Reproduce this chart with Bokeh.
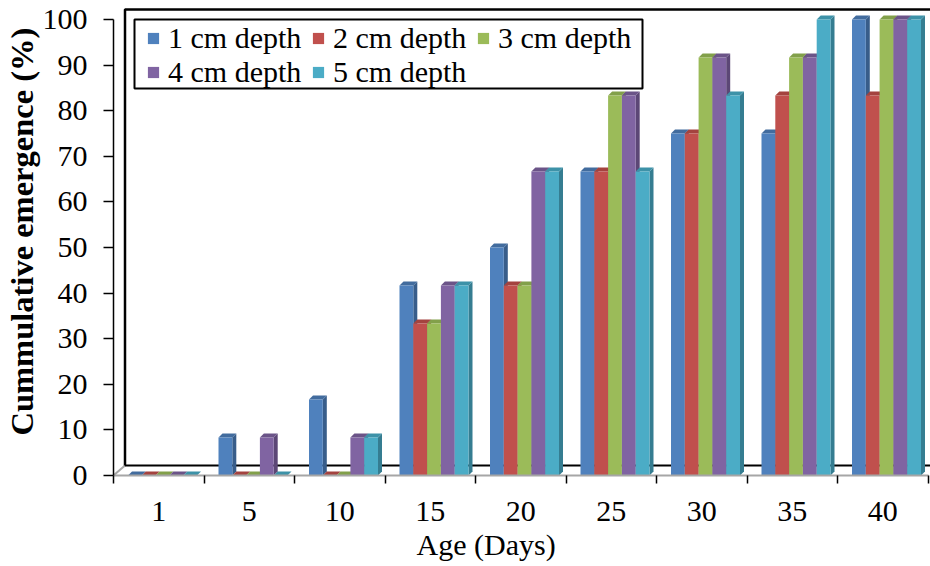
from bokeh.plotting import figure
from bokeh.models import (FixedTicker, Legend, LegendItem, Title, BoxAnnotation,
                          ColumnDataSource)
from bokeh.embed import file_html
from bokeh.resources import INLINE

# Cumulative emergence (%) by age (days) for each sowing depth
days = ["1", "5", "10", "15", "20", "25", "30", "35", "40"]
series_names = ["1 cm depth", "2 cm depth", "3 cm depth", "4 cm depth", "5 cm depth"]
depth_1cm = [0, 8.33, 16.67, 41.67, 50.0, 66.67, 75.0, 75.0, 100.0]
depth_2cm = [0, 0, 0, 33.33, 41.67, 66.67, 75.0, 83.33, 83.33]
depth_3cm = [0, 0, 0, 33.33, 41.67, 83.33, 91.67, 91.67, 100.0]
depth_4cm = [0, 8.33, 8.33, 41.67, 66.67, 83.33, 91.67, 91.67, 100.0]
depth_5cm = [0, 0, 8.33, 41.67, 66.67, 66.67, 83.33, 100.0, 100.0]
y_ticks = [0, 10, 20, 30, 40, 50, 60, 70, 80, 90, 100]

series_values = [depth_1cm, depth_2cm, depth_3cm, depth_4cm, depth_5cm]
front_colors = ["#4F81BD", "#C0504D", "#9BBB59", "#8064A2", "#4BACC6"]
side_colors = ["#385D8A", "#8C3A38", "#71893F", "#5C4776", "#357D91"]
top_colors = ["#426C9E", "#A4433F", "#82A04A", "#6B5488", "#3D92A8"]

FONT = "Liberation Serif"

# pixel scale of the plot frame (used for the pseudo-3D depth offsets)
PX_X = 90.5          # pixels per category
PX_Y = 4.56          # pixels per percent
FRAME_W = 817
FRAME_H = 470
bar_w = 13.8 / PX_X
group_pad = 14.5 / PX_X
dx = 4.0 / PX_X
dy = 4.0 / PX_Y

p = figure(width=930, height=566, output_backend="svg", toolbar_location=None,
           x_range=(0, FRAME_W / PX_X), y_range=(0, FRAME_H / PX_Y),
           min_border_left=113, min_border_right=0, min_border_top=5,
           min_border_bottom=91, background_fill_color="white",
           border_fill_color="white", outline_line_color=None)
p.xgrid.visible = False
p.ygrid.visible = False

# back wall and floor of the 3D box
wall_x = 11.5 / PX_X
wall_y = 10.0 / PX_Y
wall_top = 466.0 / PX_Y
p.segment(x0=[0], y0=[0], x1=[wall_x], y1=[wall_y], line_color="#a6a6a6", line_width=2)
p.line(x=[wall_x, wall_x, FRAME_W / PX_X + 1], y=[wall_y, wall_top, wall_top],
       line_color="black", line_width=2.5)
p.line(x=[wall_x, FRAME_W / PX_X + 1], y=[wall_y, wall_y], line_color="black", line_width=2)

# side and top faces of every column, then the front faces on top
xs, ys, cols = [], [], []
centers = {k: [] for k in range(5)}
for i in range(len(days)):
    for k, vals in enumerate(series_values):
        v = vals[i]
        x0 = i + group_pad + k * bar_w
        x1 = x0 + bar_w
        centers[k].append(x0 + bar_w / 2)
        if v > 0:
            xs.append([x1, x1, x1 + dx, x1 + dx])
            ys.append([0, v, v + dy, dy])
            cols.append(side_colors[k])
        xs.append([x0, x1, x1 + dx, x0 + dx])
        ys.append([v, v, v + dy, v + dy])
        cols.append(top_colors[k])

faces = ColumnDataSource(dict(xs=xs, ys=ys, color=cols))
p.patches("xs", "ys", source=faces, fill_color="color", line_color=None)

renderers = []
for k, vals in enumerate(series_values):
    r = p.vbar(x=centers[k], width=bar_w, top=vals, bottom=0,
               fill_color=front_colors[k], line_color=None)
    renderers.append(r)

# axes
p.yaxis.ticker = FixedTicker(ticks=y_ticks, minor_ticks=[])
p.yaxis.bounds = (0, 100)
p.yaxis.major_tick_out = 10
p.yaxis.major_tick_in = 0
p.yaxis.minor_tick_line_color = None
p.yaxis.axis_line_width = 1.5
p.yaxis.major_tick_line_width = 1.5
p.yaxis.major_label_text_font = FONT
p.yaxis.major_label_text_font_size = "30px"
p.yaxis.major_label_text_color = "black"
p.yaxis.major_label_standoff = 16

label_pos = [i + 0.5 for i in range(len(days))]
p.xaxis.ticker = FixedTicker(ticks=label_pos, minor_ticks=list(range(len(days) + 1)))
p.xaxis.major_label_overrides = {pos: d for pos, d in zip(label_pos, days)}
p.xaxis.bounds = (0, 9.0)
p.xaxis.major_tick_line_color = None
p.xaxis.minor_tick_out = 8
p.xaxis.minor_tick_in = 0
p.xaxis.minor_tick_line_color = "black"
p.xaxis.minor_tick_line_width = 1.5
p.xaxis.axis_line_color = "#a6a6a6"
p.xaxis.axis_line_width = 2
p.xaxis.major_label_text_font = FONT
p.xaxis.major_label_text_font_size = "30px"
p.xaxis.major_label_text_color = "black"
p.xaxis.major_label_standoff = 18

# axis titles
p.add_layout(Title(text="Age (Days)", align="left", offset=303, standoff=4,
                   text_font=FONT, text_font_size="30px", text_font_style="normal",
                   text_color="black"), "below")
p.add_layout(Title(text="Cummulative emergence (%)", align="left", offset=40,
                   standoff=0, text_font=FONT, text_font_size="32.5px",
                   text_font_style="bold", text_color="black"), "left")

# legend frame with two rows of entries
p.add_layout(BoxAnnotation(left=21 / PX_X, right=529 / PX_X,
                           top=(475 - 19) / PX_Y, bottom=(475 - 88) / PX_Y,
                           fill_color="white", fill_alpha=1.0,
                           line_color="black", line_alpha=1.0, line_width=2))

legend_style = dict(orientation="horizontal", label_text_font=FONT,
                    label_text_font_size="30px", label_text_color="black",
                    glyph_width=14, glyph_height=14,
                    label_standoff=8, spacing=6, label_width=137, padding=0, margin=0,
                    border_line_color=None, background_fill_alpha=0.0)
row1 = Legend(items=[LegendItem(label=n, renderers=[r])
                     for n, r in zip(series_names[:3], renderers[:3])],
              location=(33, 420), **legend_style)
row2 = Legend(items=[LegendItem(label=n, renderers=[r])
                     for n, r in zip(series_names[3:], renderers[3:])],
              location=(33, 386), **legend_style)
p.add_layout(row1, "center")
p.add_layout(row2, "center")

open("out.html", "w").write(file_html(p, INLINE))
